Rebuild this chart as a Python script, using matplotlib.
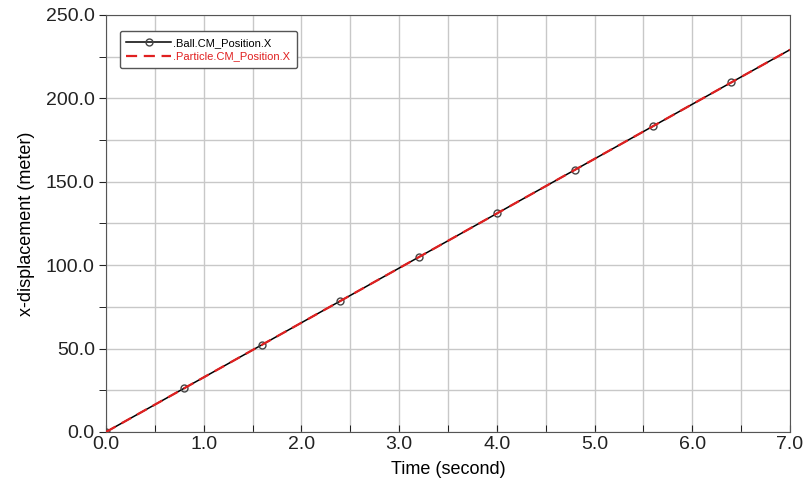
import matplotlib.pyplot as plt
from matplotlib.ticker import MultipleLocator, FormatStrFormatter

plt.rcParams['font.family'] = ['Liberation Sans', 'DejaVu Sans']

# sampled x-displacement of both bodies
time = [0.0, 0.8, 1.6, 2.4, 3.2, 4.0, 4.8, 5.6, 6.4, 7.0]
ball_x = [0.0, 26.2, 52.4, 78.6, 104.8, 131.0, 157.2, 183.4, 209.6, 229.2]
particle_x = [0.0, 26.2, 52.4, 78.6, 104.8, 131.0, 157.2, 183.4, 209.6, 229.2]

fig = plt.figure(figsize=(8.04, 4.9), dpi=100)
ax = fig.add_axes([0.1318, 0.1184, 0.8508, 0.851])

ax.plot(time, ball_x, color='black', lw=1.1, marker='o', ms=5,
        markevery=list(range(len(time) - 1)),
        mfc='none', mec='#444444', mew=1.0, label='.Ball.CM_Position.X', zorder=3)
ax.plot(time, particle_x, color='#e02020', lw=1.6, ls=(0, (5, 3)),
        label='.Particle.CM_Position.X', zorder=4)

ax.set_xlim(0, 7.0)
ax.set_ylim(0, 250)
ax.xaxis.set_major_locator(MultipleLocator(1.0))
ax.xaxis.set_minor_locator(MultipleLocator(0.5))
ax.yaxis.set_major_locator(MultipleLocator(50))
ax.yaxis.set_minor_locator(MultipleLocator(25))
ax.xaxis.set_major_formatter(FormatStrFormatter('%.1f'))
ax.yaxis.set_major_formatter(FormatStrFormatter('%.1f'))
ax.grid(True, which='both', color='#c8c8c8', lw=1.0)
ax.set_axisbelow(True)

ax.tick_params(axis='both', labelsize=14, colors='#222222')
ax.tick_params(axis='y', which='both', direction='out', length=5, pad=3)
ax.tick_params(axis='x', which='both', direction='in', length=5, pad=3)
for s in ax.spines.values():
    s.set_color('#555555')

ax.set_xlabel('Time (second)', fontsize=13, labelpad=6)
ax.set_ylabel('x-displacement (meter)', fontsize=13, labelpad=8)

leg = ax.legend(loc='upper left', bbox_to_anchor=(0.012, 0.975), fontsize=8,
                frameon=True, fancybox=True, edgecolor='#555555',
                handlelength=4.0, handletextpad=0.2, borderpad=0.6,
                labelspacing=0.35, framealpha=1)
leg.get_texts()[1].set_color('#e02020')

fig.savefig('out.png', dpi=100)
